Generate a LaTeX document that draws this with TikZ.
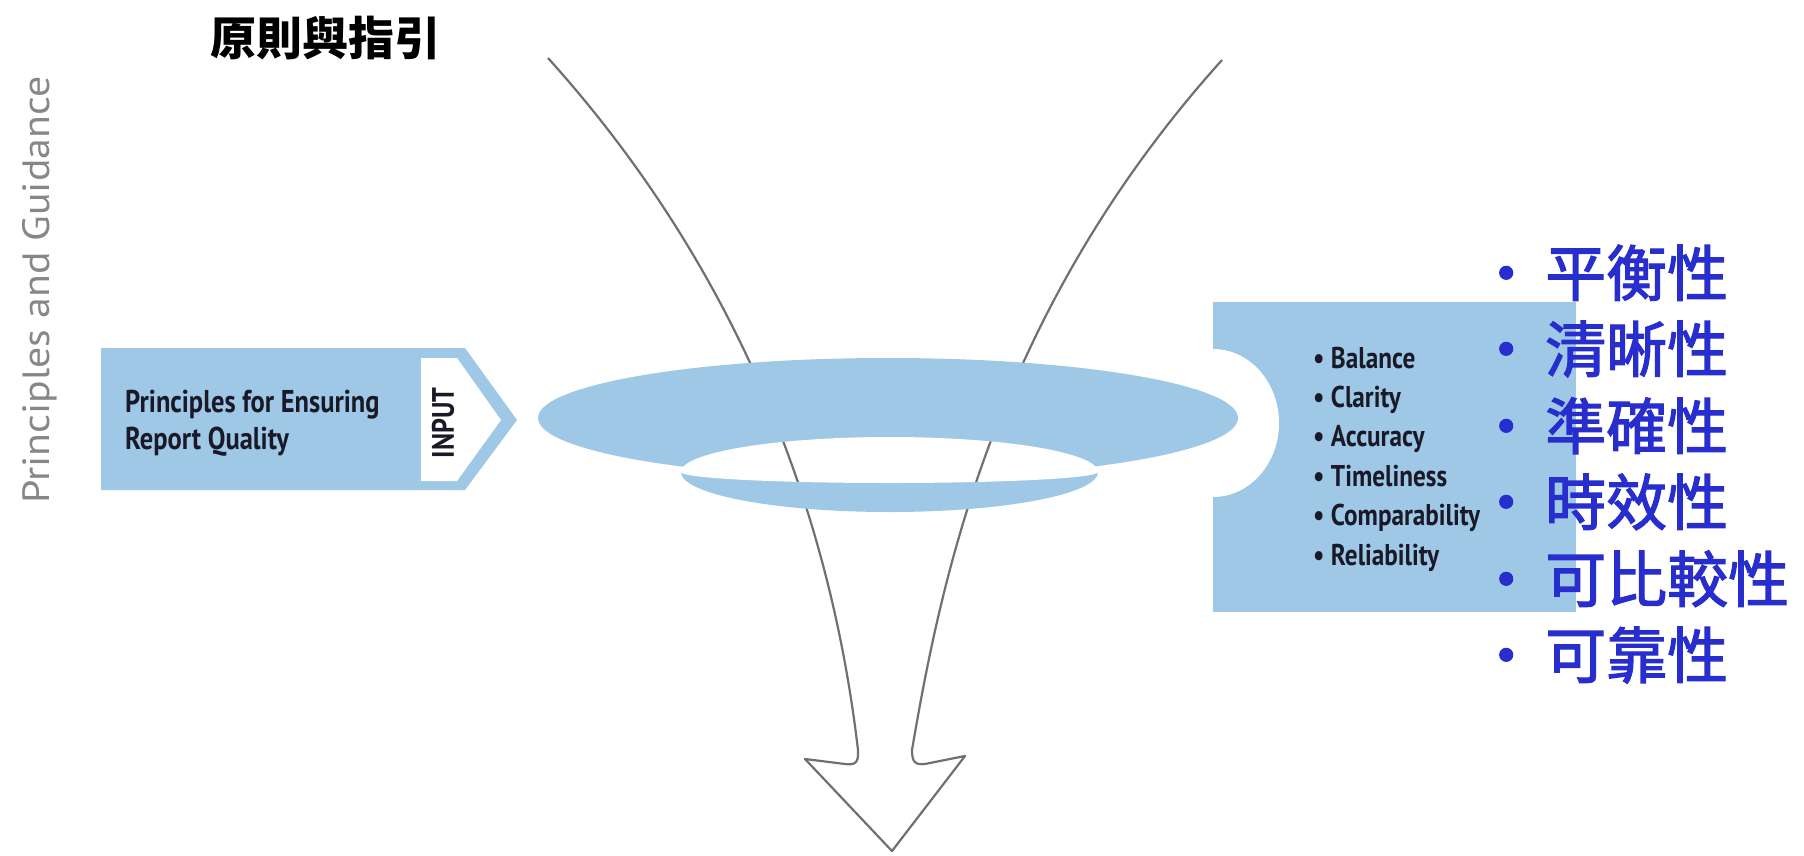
\documentclass[tikz,border=0pt]{standalone}
\usepackage{fontspec}
\setmainfont{PT Sans}
\newfontfamily\condfont[FakeStretch=0.84]{PT Sans}
\newfontfamily\widefont[FakeStretch=1.1]{PT Sans}
\newfontfamily\cjkfont[FakeBold=2]{Noto Sans CJK TC}
\newfontfamily\cjktitle{Noto Sans CJK TC}
\definecolor{lblue}{RGB}{158,200,230}
\definecolor{lineg}{RGB}{112,112,112}
\definecolor{txtd}{RGB}{25,25,40}
\definecolor{cblue}{RGB}{40,45,205}
\definecolor{vgrey}{RGB}{135,135,135}
\newcommand\funnelpath{(548,58) .. controls (775,310) and (838,580) .. (858,750)
  .. controls (859,764) and (854,765) .. (845,764) -- (805,759) -- (892,851) -- (965,756) -- (925,764)
  .. controls (915,765) and (912,762) .. (912,750)
  .. controls (941,580) and (995,312) .. (1222,60)}
\newcommand\holepath{(681,472) arc[start angle=180,end angle=0,x radius=208.5pt,y radius=35pt]
  arc[start angle=0,end angle=-180,x radius=208.5pt,y radius=11pt] -- cycle}
\begin{document}
\begin{tikzpicture}[x=1pt,y=-1pt,
  fl/.style={draw=lineg, line width=2.2pt, line join=round},
  boxtxt/.style={anchor=base west, inner sep=0pt, font=\condfont\bfseries\fontsize{31.5}{31.5}\selectfont, text=txtd},
  itemtxt/.style={anchor=base west, inner sep=0pt, font=\condfont\bfseries\fontsize{30}{30}\selectfont, text=txtd},
  zhitem/.style={anchor=base west, inner sep=0pt, font=\cjkfont\fontsize{61}{61}\selectfont, text=cblue},
]
\useasboundingbox (0,0) rectangle (1804,855);

% funnel and arrow outline
\draw[fl] \funnelpath;

% right box with cut
\fill[lblue] (1213,302) rectangle (1576,612);
\fill[white] (1213,423) ellipse [x radius=66pt, y radius=74pt];

% ring
\fill[lblue] (888,418) ellipse [x radius=350pt, y radius=60pt];
\fill[lblue] (681,472) arc[start angle=180,end angle=360,x radius=208.5pt,y radius=40pt] -- cycle;
\fill[white] \holepath;
\begin{scope}
  \clip \holepath;
  \draw[fl] \funnelpath;
\end{scope}

% left input box
\fill[lblue] (101,348) -- (465,348) -- (517,420) -- (465,490) -- (101,490) -- cycle;
\fill[white] (421,358) -- (457,358) -- (501,420) -- (457,481) -- (421,481) -- cycle;
\node[boxtxt] (pfe) at (125,412) {Principles for Ensuring};
\node[boxtxt] (rq) at (125,449) {Report Quality};
\node[rotate=90, inner sep=0pt, font=\condfont\bfseries\fontsize{31}{31}\selectfont, text=txtd] (inp) at (443,423) {INPUT};

% vertical label
\node[rotate=90, inner sep=0pt, font=\widefont\fontsize{38}{38}\selectfont, text=vgrey] (pg) at (40,290) {Principles and Guidance};

% title
\node[anchor=base west, inner sep=0pt, font=\cjktitle\bfseries\fontsize{46}{46}\selectfont] (title) at (210,55) {原則與指引};

% english items
\node[itemtxt] (i1) at (1313,368.0) {• Balance};
\node[itemtxt] (i2) at (1313,407.4) {• Clarity};
\node[itemtxt] (i3) at (1313,446.8) {• Accuracy};
\node[itemtxt] (i4) at (1313,486.2) {• Timeliness};
\node[itemtxt] (i5) at (1313,525.6) {• Comparability};
\node[itemtxt] (i6) at (1313,565.0) {• Reliability};

% chinese items
\node[zhitem] (z1) at (1491,296) {\makebox[30pt][c]{•}\hspace{24pt}平衡性};
\node[zhitem] (z2) at (1491,372) {\makebox[30pt][c]{•}\hspace{24pt}清晰性};
\node[zhitem] (z3) at (1491,449) {\makebox[30pt][c]{•}\hspace{24pt}準確性};
\node[zhitem] (z4) at (1491,525) {\makebox[30pt][c]{•}\hspace{24pt}時效性};
\node[zhitem] (z5) at (1491,602) {\makebox[30pt][c]{•}\hspace{24pt}可比較性};
\node[zhitem] (z6) at (1491,678) {\makebox[30pt][c]{•}\hspace{24pt}可靠性};
\end{tikzpicture}
\end{document}
